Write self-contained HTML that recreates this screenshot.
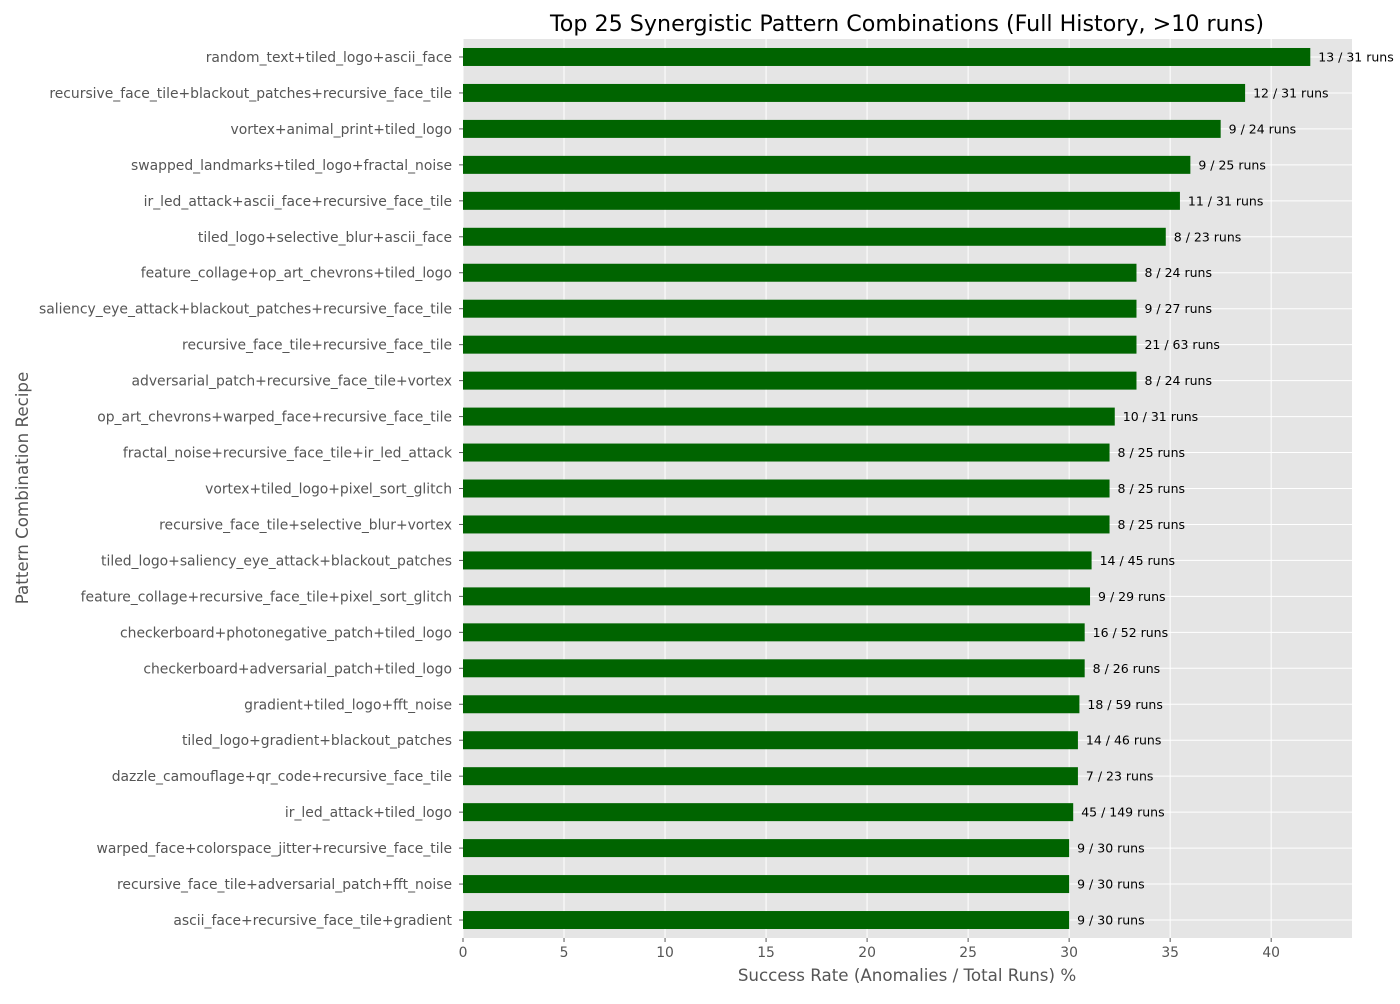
<!DOCTYPE html>
<html><head><meta charset="utf-8"><style>
body{margin:0;background:#fff;font-family:"DejaVu Sans","Liberation Sans",sans-serif}
svg text{font-family:"DejaVu Sans","Liberation Sans",sans-serif}
</style></head><body>
<svg id="chart" width="1400" height="1000" xmlns="http://www.w3.org/2000/svg">
<rect width="1400" height="1000" fill="#fff"/>
<text x="907" y="31" text-anchor="middle" font-size="22.2" fill="#000">Top 25 Synergistic Pattern Combinations (Full History, &gt;10 runs)</text>
<text x="907" y="981" text-anchor="middle" font-size="16.7" fill="#555">Success Rate (Anomalies / Total Runs) %</text>
<text transform="translate(28,488) rotate(-90)" text-anchor="middle" font-size="16.7" fill="#555">Pattern Combination Recipe</text>
<g id="plot"></g>
</svg>
<script>
const categories=["random_text+tiled_logo+ascii_face","recursive_face_tile+blackout_patches+recursive_face_tile","vortex+animal_print+tiled_logo","swapped_landmarks+tiled_logo+fractal_noise","ir_led_attack+ascii_face+recursive_face_tile","tiled_logo+selective_blur+ascii_face","feature_collage+op_art_chevrons+tiled_logo","saliency_eye_attack+blackout_patches+recursive_face_tile","recursive_face_tile+recursive_face_tile","adversarial_patch+recursive_face_tile+vortex","op_art_chevrons+warped_face+recursive_face_tile","fractal_noise+recursive_face_tile+ir_led_attack","vortex+tiled_logo+pixel_sort_glitch","recursive_face_tile+selective_blur+vortex","tiled_logo+saliency_eye_attack+blackout_patches","feature_collage+recursive_face_tile+pixel_sort_glitch","checkerboard+photonegative_patch+tiled_logo","checkerboard+adversarial_patch+tiled_logo","gradient+tiled_logo+fft_noise","tiled_logo+gradient+blackout_patches","dazzle_camouflage+qr_code+recursive_face_tile","ir_led_attack+tiled_logo","warped_face+colorspace_jitter+recursive_face_tile","recursive_face_tile+adversarial_patch+fft_noise","ascii_face+recursive_face_tile+gradient"];
const anomalies=[13,12,9,9,11,8,8,9,21,8,10,8,8,8,14,9,16,8,18,14,7,45,9,9,9];
const totalRuns=[31,31,24,25,31,23,24,27,63,24,31,25,25,25,45,29,52,26,59,46,23,149,30,30,30];
const xTicks=[0,5,10,15,20,25,30,35,40];
const L=463,R=1352,T=39,B=938,XMAX=44;
const ns="http://www.w3.org/2000/svg";
const g=document.getElementById('plot');
const x=v=>L+v/XMAX*(R-L);
const step=(B-T)/categories.length;
const y=i=>T+step*(i+0.5);
function el(t,a){const e=document.createElementNS(ns,t);for(const k in a)e.setAttribute(k,a[k]);g.appendChild(e);return e;}
const bg=el('rect',{x:L,y:T,width:R-L,height:B-T,fill:'#e5e5e5'});


xTicks.forEach(t=>{
 const l=el('line',{x1:x(t),x2:x(t),y1:T,y2:B,stroke:'#fff','stroke-width':1});
 
 
 const tk=el('line',{x1:x(t),x2:x(t),y1:B,y2:B+4,stroke:'#555'});
 
 
 const tx=el('text',{x:x(t),y:B+19,'text-anchor':'middle','font-size':13.9,fill:'#555'});
 tx.textContent=t;
 
 
});
categories.forEach((c,i)=>{
 const yy=y(i);
 const gl=el('line',{x1:L,x2:R,y1:yy,y2:yy,stroke:'#fff','stroke-width':1});
 
 
});
categories.forEach((c,i)=>{
 const v=anomalies[i]/totalRuns[i]*100;
 const yy=y(i);
 const b=el('rect',{x:L,y:yy-step/4,width:x(v)-L,height:step/2,fill:'#006400'});
 
 
 const lt=el('text',{x:x(v)+8,y:yy+4.5,'font-size':12.5,fill:'#000'});
 lt.textContent=anomalies[i]+' / '+totalRuns[i]+' runs';
 
 
 const tk=el('line',{x1:L-4,x2:L,y1:yy,y2:yy,stroke:'#555'});
 
 
 const cl=el('text',{x:L-11,y:yy+5,'text-anchor':'end','font-size':13.9,fill:'#555'});
 cl.textContent=c;
 
 
});
</script>
</body></html>
